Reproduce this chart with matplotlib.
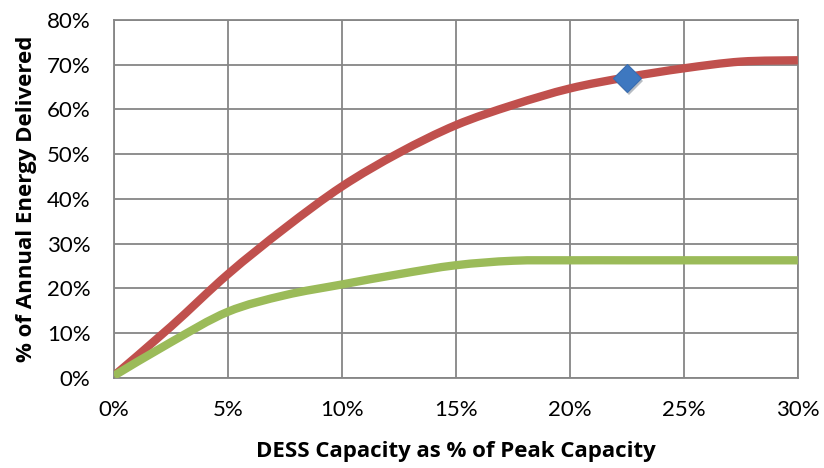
#!/usr/bin/env python3
import numpy as np
from matplotlib import pyplot as plt
from matplotlib.ticker import FuncFormatter
from matplotlib.path import Path
from matplotlib.patches import PathPatch
import matplotlib.patheffects as pe

# DESS capacity (% of peak) and % of annual energy delivered
cap = [0, 2.5, 5, 7.5, 10, 12.5, 15, 17.5, 20, 22.5, 25, 27.5, 30]
red = [0.5, 11.5, 23.2, 33.5, 42.8, 50.3, 56.5, 61.0, 64.7, 67.2, 69.2, 70.7, 71.0]
green = [0.5, 8.0, 14.8, 18.5, 20.9, 23.2, 25.2, 26.2, 26.3, 26.3, 26.3, 26.3, 26.3]
pt_x = [22.5]
pt_y = [67.0]


def smooth_path(x, y):
    # Excel-style smoothed line: cubic bezier through the points (catmull-rom)
    p = np.column_stack((x, y)).astype(float)
    n = len(p)
    verts = [p[0]]
    codes = [Path.MOVETO]
    for i in range(n - 1):
        p0 = p[i - 1] if i > 0 else p[i]
        p3 = p[i + 2] if i + 2 < n else p[i + 1]
        c1 = p[i] + (p[i + 1] - p0) / 6.0
        c2 = p[i + 1] - (p3 - p[i]) / 6.0
        verts += [c1, c2, p[i + 1]]
        codes += [Path.CURVE4] * 3
    return Path(verts, codes)


plt.rcParams['font.family'] = ['Lato', 'DejaVu Sans']
LBL = dict(family=['Open Sans', 'DejaVu Sans'], fontsize=16, fontweight='bold')

fig = plt.figure(figsize=(8.24, 4.68), dpi=100)
ax = fig.add_axes([0.1383, 0.1923, 0.830, 0.765])

for ys, col in ((red, '#C0504D'), (green, '#9BBB59')):
    ax.add_patch(PathPatch(smooth_path(cap, ys), fc='none', ec=col, lw=6,
                           capstyle='butt', joinstyle='round', zorder=3))
ax.plot(pt_x, pt_y, marker='D', ms=14, color='#3E78C0', mec='#3A6DB0', mew=0.8, ls='none', zorder=4,
        path_effects=[pe.SimplePatchShadow(offset=(1.5, -2), alpha=0.3), pe.Normal()])

ax.set_xlim(0, 30)
ax.set_ylim(0, 80)
ax.set_xticks(np.arange(0, 31, 5))
ax.set_yticks(np.arange(0, 81, 10))
pct = FuncFormatter(lambda v, p: '%d%%' % v)
ax.xaxis.set_major_formatter(pct)
ax.yaxis.set_major_formatter(pct)
ax.grid(True, color='#868686', lw=1.3)
ax.set_axisbelow(True)
for s in ax.spines.values():
    s.set_color('#868686')
    s.set_linewidth(1.3)
ax.tick_params(length=0, labelsize=16)
ax.tick_params(axis='y', pad=17)
ax.tick_params(axis='x', pad=16)

ax.set_xlabel('DESS Capacity as % of Peak Capacity', labelpad=15, **LBL)
ax.set_ylabel('% of Annual Energy Delivered', labelpad=7, **LBL)

plt.savefig('out.png', dpi=100)
